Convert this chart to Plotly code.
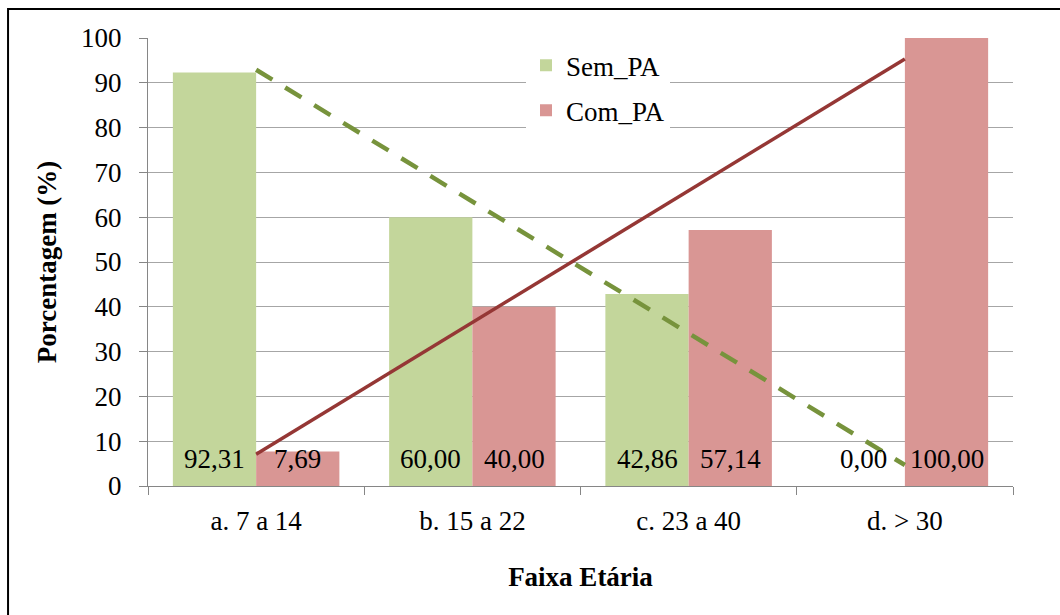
import numpy as np
import plotly.graph_objects as go

# Age groups and share of each group (%)
categorias = ["a. 7 a 14", "b. 15 a 22", "c. 23 a 40", "d. > 30"]
sem_pa = [92.31, 60.00, 42.86, 0.00]
com_pa = [7.69, 40.00, 57.14, 100.00]
y_ticks = list(range(0, 101, 10))

COR_SEM = "#C3D69B"
COR_COM = "#D99694"
COR_SEM_TEND = "#77933C"
COR_COM_TEND = "#953735"
FONTE = "Liberation Serif"
TAM = 27

BARGAP = 0.23
larg_barra = (1 - BARGAP) / 2

# Linear trend lines fitted on the category index
idx = np.arange(len(categorias))
tend_sem = np.polyval(np.polyfit(idx, sem_pa, 1), idx)
tend_com = np.polyval(np.polyfit(idx, com_pa, 1), idx)

fig = go.Figure()
fig.add_trace(go.Bar(x=categorias, y=sem_pa, name="Sem_PA", marker_color=COR_SEM,
                     marker_line_width=0, legendgroup="s"))
fig.add_trace(go.Bar(x=categorias, y=com_pa, name="Com_PA", marker_color=COR_COM,
                     marker_line_width=0, legendgroup="c"))
fig.add_trace(go.Scatter(x=categorias, y=tend_sem, mode="lines", showlegend=False,
                         line=dict(color=COR_SEM_TEND, width=4.5, dash="19px,15px")))
fig.add_trace(go.Scatter(x=categorias, y=tend_com, mode="lines", showlegend=False,
                         line=dict(color=COR_COM_TEND, width=3.5)))

# Value labels at the base of each bar
anotacoes = []
for i in range(len(categorias)):
    for serie, desloc in ((sem_pa, -larg_barra / 2), (com_pa, larg_barra / 2)):
        anotacoes.append(dict(
            x=i + desloc, y=0, xref="x", yref="y",
            text=f"{serie[i]:.2f}".replace(".", ","),
            showarrow=False, yanchor="bottom", xanchor="center", yshift=10,
            font=dict(family=FONTE, size=TAM, color="black"),
        ))

fig.update_layout(
    width=1060, height=615,
    margin=dict(l=148, r=47, t=38, b=129),
    paper_bgcolor="white", plot_bgcolor="white",
    barmode="group", bargap=BARGAP, bargroupgap=0,
    font=dict(family=FONTE, size=TAM, color="black"),
    annotations=anotacoes,
    legend=dict(x=0.437, y=0.993, xanchor="left", yanchor="top",
                bgcolor="white", borderwidth=0, tracegroupgap=7,
                font=dict(family=FONTE, size=TAM, color="black")),
    shapes=[dict(type="rect", xref="paper", yref="paper",
                 x0=-0.1618, x1=1.08, y0=-0.4, y1=1.0647,
                 line=dict(color="black", width=2), fillcolor="rgba(0,0,0,0)",
                 layer="below")],
)

fig.update_xaxes(
    type="category", categoryorder="array", categoryarray=categorias,
    range=[-0.5, len(categorias) - 0.5],
    showline=True, linecolor="#868686", linewidth=1,
    ticks="outside", ticklen=8, tickcolor="#868686", tickson="boundaries",
    showgrid=False, ticklabelstandoff=11,
    tickfont=dict(family=FONTE, size=TAM, color="black"),
    title=dict(text="<b>Faixa Etária</b>", standoff=31,
               font=dict(family=FONTE, size=TAM, color="black")),
)
fig.update_yaxes(
    range=[0, 100], tickvals=y_ticks,
    showline=True, linecolor="#868686", linewidth=1,
    ticks="outside", ticklen=8, tickcolor="#868686",
    showgrid=True, gridcolor="#A6A6A6", gridwidth=1,
    zeroline=False, ticklabelstandoff=12,
    tickfont=dict(family=FONTE, size=TAM, color="black"),
    title=dict(text="<b>Porcentagem (%)</b>", standoff=16,
               font=dict(family=FONTE, size=TAM, color="black")),
)

fig.write_html("out.html")
